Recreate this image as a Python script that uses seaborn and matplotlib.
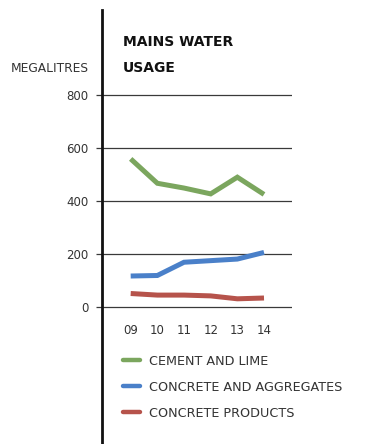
import matplotlib
matplotlib.use("Agg")
import matplotlib.pyplot as plt
from matplotlib.lines import Line2D
import seaborn as sns
import pandas as pd

# Financial years shown on the x axis
years = ["09", "10", "11", "12", "13", "14"]

# Mains water usage in megalitres per product sector
cement_and_lime = [559, 467, 449, 427, 490, 425]
concrete_and_aggregates = [117, 119, 169, 175, 181, 206]
concrete_products = [51, 45, 45, 42, 31, 34]

series_names = ["CEMENT AND LIME", "CONCRETE AND AGGREGATES", "CONCRETE PRODUCTS"]
series_values = [cement_and_lime, concrete_and_aggregates, concrete_products]
series_colors = ["#7ba65e", "#4a80c9", "#b6534b"]

y_ticks = [0, 200, 400, 600, 800]

rows = []
for name, values in zip(series_names, series_values):
    for i, (yr, v) in enumerate(zip(years, values)):
        rows.append({"pos": i, "year": yr, "usage": v, "sector": name})
df = pd.DataFrame(rows)

sns.set_theme(style="white")
plt.rcParams["font.family"] = ["DejaVu Sans"]

fig = plt.figure(figsize=(3.69, 4.44), dpi=100)
ax = fig.add_axes([102 / 369, 0.0, 190 / 369, 434 / 444])

sns.lineplot(data=df, x="pos", y="usage", hue="sector",
             hue_order=series_names, palette=series_colors,
             linewidth=3.6, ax=ax, legend=False, zorder=3)
for line in ax.lines:
    line.set_solid_capstyle("butt")
    line.set_solid_joinstyle("miter")

ax.set_xlim(-1.076, 6.05)
ax.set_ylim(-517, 1121)

# y axis: gridlines only across the 0-800 range
ax.set_yticks(y_ticks)
ax.set_yticklabels([str(t) for t in y_ticks])
ax.yaxis.grid(True, color="#3a3a3a", linewidth=0.9)
ax.xaxis.grid(False)
ax.tick_params(axis="y", length=4.5, width=0.9, color="#3a3a3a",
               pad=5, labelsize=8.5, labelcolor="#333333", left=True)

# year labels sit just below the zero line
ax.spines["bottom"].set_position(("data", 0))
ax.spines["bottom"].set_visible(False)
ax.set_xticks(range(len(years)))
ax.set_xticklabels(years)
ax.tick_params(axis="x", length=0, pad=12, labelsize=8.5, labelcolor="#333333")

for s in ["top", "right", "bottom"]:
    ax.spines[s].set_visible(False)
ax.spines["left"].set_color("#111111")
ax.spines["left"].set_linewidth(2.0)

ax.set_xlabel("")
ax.set_ylabel("")

fig.text(123 / 369, 1 - 42 / 444, "MAINS WATER", fontsize=10, fontweight="heavy",
         color="#111111", va="center", ha="left")
fig.text(123 / 369, 1 - 68 / 444, "USAGE", fontsize=10, fontweight="heavy",
         color="#111111", va="center", ha="left")
fig.text(89 / 369, 1 - 68 / 444, "MEGALITRES", fontsize=8.8, color="#333333",
         va="center", ha="right")

handles = [Line2D([0], [0], color=c, linewidth=3.2) for c in series_colors]
leg = fig.legend(handles, series_names, loc="upper left",
                 bbox_to_anchor=(118 / 369, 1 - 349.5 / 444), frameon=False,
                 fontsize=9.2, handlelength=1.35, handletextpad=0.7,
                 labelspacing=1.02, borderaxespad=0)
for t in leg.get_texts():
    t.set_color("#333333")

fig.savefig("out.png", dpi=100, facecolor="white")
